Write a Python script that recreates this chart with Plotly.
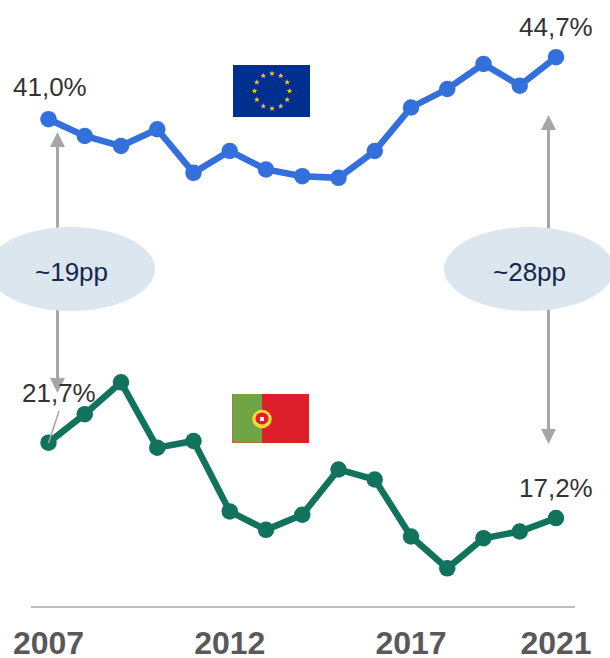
import math
import plotly.graph_objects as go

years = list(range(2007, 2022))
eu_values = [41.0, 40.0, 39.4, 40.4, 37.8, 39.1, 38.0, 37.6, 37.5, 39.1, 41.7, 42.8, 44.3, 43.0, 44.7]
pt_values = [21.7, 23.4, 25.3, 21.4, 21.8, 17.6, 16.5, 17.4, 20.1, 19.5, 16.1, 14.2, 16.0, 16.4, 17.2]
tick_years = [2007, 2012, 2017, 2021]
gap_labels = ["~19pp", "~28pp"]

W, H = 610, 658
FONT = "Liberation Sans"
BLUE, GREEN = "#3370dc", "#12735c"
GREY = "#a6a6a6"


def fx(x):
    return x / W


def fy(y):
    return 1 - y / H


def rect(x0, y0, x1, y1, color):
    return dict(type="rect", xref="paper", yref="paper", x0=fx(x0), x1=fx(x1), y0=fy(y0), y1=fy(y1),
                fillcolor=color, line_width=0, layer="below")


def ellipse(x0, y0, x1, y1, color, layer="below"):
    return dict(type="circle", xref="paper", yref="paper", x0=fx(x0), x1=fx(x1), y0=fy(y0), y1=fy(y1),
                fillcolor=color, line_width=0, layer=layer)


def line(x0, y0, x1, y1, color, width, layer="below"):
    return dict(type="line", xref="paper", yref="paper", x0=fx(x0), x1=fx(x1), y0=fy(y0), y1=fy(y1),
                line=dict(color=color, width=width), layer=layer)


def poly(points, color, layer="below"):
    d = "M " + " L ".join(f"{fx(x):.5f},{fy(y):.5f}" for x, y in points) + " Z"
    return dict(type="path", xref="paper", yref="paper", path=d, fillcolor=color, line_width=0, layer=layer)


def star(cx, cy, r, color):
    pts = []
    for i in range(10):
        a = -math.pi / 2 + i * math.pi / 5
        rr = r if i % 2 == 0 else r * 0.42
        pts.append((cx + rr * math.cos(a), cy + rr * math.sin(a)))
    return poly(pts, color, layer="above")


shapes = []
# Gap arrows
for ax, top_tip, bot_tip in [(57.5, 132, 393), (548.5, 115, 444)]:
    shapes.append(line(ax, top_tip + 10, ax, bot_tip - 10, GREY, 3))
    shapes.append(poly([(ax, top_tip), (ax - 7.5, top_tip + 15), (ax + 7.5, top_tip + 15)], GREY))
    shapes.append(poly([(ax, bot_tip), (ax - 7.5, bot_tip - 15), (ax + 7.5, bot_tip - 15)], GREY))
# Gap ellipses
shapes.append(ellipse(-13, 227, 155, 311, "#dce6ef"))
shapes.append(ellipse(444, 227, 614, 311, "#dce6ef"))
# EU flag
shapes.append(rect(233, 65, 310, 117, "#002f8f"))
for i in range(12):
    a = i * math.pi / 6
    shapes.append(star(272 + 17.5 * math.sin(a), 91 - 17.5 * math.cos(a), 3, "#f2c31c"))
# Portugal flag
shapes.append(rect(232, 394, 309, 443, "#dc1f2a"))
shapes.append(rect(232, 394, 262, 443, "#6fa544"))
shapes.append(rect(232, 394, 233, 443, "#a5773a"))
shapes.append(rect(232, 442, 262, 443, "#a5773a"))
shapes.append(ellipse(252.3, 409.7, 271.7, 428.3, "#fbd83a", layer="above"))
shapes.append(ellipse(255.5, 412.5, 268.5, 424.5, "#dc1f2a", layer="above"))
shapes.append(dict(type="rect", xref="paper", yref="paper", x0=fx(260), x1=fx(264), y0=fy(417), y1=fy(421),
                   fillcolor="#f2f2f2", line_width=0, layer="above"))
# Leader line of the 2007 Portugal label
shapes.append(line(59, 411, 48.5, 443, GREY, 1.5, layer="above"))


def value_label(x, y, dx, dy):
    return dict(x=x, y=y, xref="x", yref="y", xshift=dx, yshift=dy, text=f"{y:.1f}".replace(".", ",") + "%",
                showarrow=False, font=dict(family=FONT, size=26, color="#333333"), xanchor="center", yanchor="middle")


annotations = [
    value_label(years[0], eu_values[0], 1, 32),
    value_label(years[-1], eu_values[-1], 0, 30),
    value_label(years[0], pt_values[0], 10, 50),
    value_label(years[-1], pt_values[-1], 0, 30),
]
for text, xc in zip(gap_labels, [71, 529]):
    annotations.append(dict(x=fx(xc), y=fy(271.5), xref="paper", yref="paper", text=text, showarrow=False,
                            font=dict(family=FONT, size=26, color="#14284f"), xanchor="center", yanchor="middle"))

fig = go.Figure()
fig.add_trace(go.Scatter(x=years, y=eu_values, mode="lines+markers", cliponaxis=False,
                         line=dict(color=BLUE, width=6.5), marker=dict(color=BLUE, size=16.5), hoverinfo="skip"))
fig.add_trace(go.Scatter(x=years, y=pt_values, mode="lines+markers", cliponaxis=False,
                         line=dict(color=GREEN, width=6.5), marker=dict(color=GREEN, size=16.5), hoverinfo="skip"))

# 36.25 px per year, 2007 at x=48.5; 16.76 px per point, 41.0 at y=119
PX_YEAR, PX_PP = 36.25, 16.76
fig.update_layout(
    width=W, height=H, autosize=False, showlegend=False,
    margin=dict(l=0, r=0, t=0, b=0, autoexpand=False), paper_bgcolor="white", plot_bgcolor="white",
    shapes=shapes, annotations=annotations,
    xaxis=dict(domain=[31 / W, 575 / W], automargin=False,
               range=[2007 + (31 - 48.5) / PX_YEAR, 2007 + (575 - 48.5) / PX_YEAR],
               tickmode="array", tickvals=tick_years, ticktext=[str(t) for t in tick_years],
               showgrid=False, zeroline=False, showline=True, linecolor="#bfbfbf", linewidth=2,
               ticks="outside", ticklen=8, tickcolor="rgba(0,0,0,0)",
               tickfont=dict(family=FONT, size=32, color="#595959", weight="bold")),
    yaxis=dict(domain=[1 - 605.5 / H, 1], automargin=False,
               range=[41 - (605.5 - 119.2) / PX_PP, 41 + 119.2 / PX_PP],
               visible=False, showgrid=False, zeroline=False),
)
fig.write_html("out.html", config={"displayModeBar": False},
               post_script="document.body.style.margin='0';document.documentElement.style.overflow='hidden';")
